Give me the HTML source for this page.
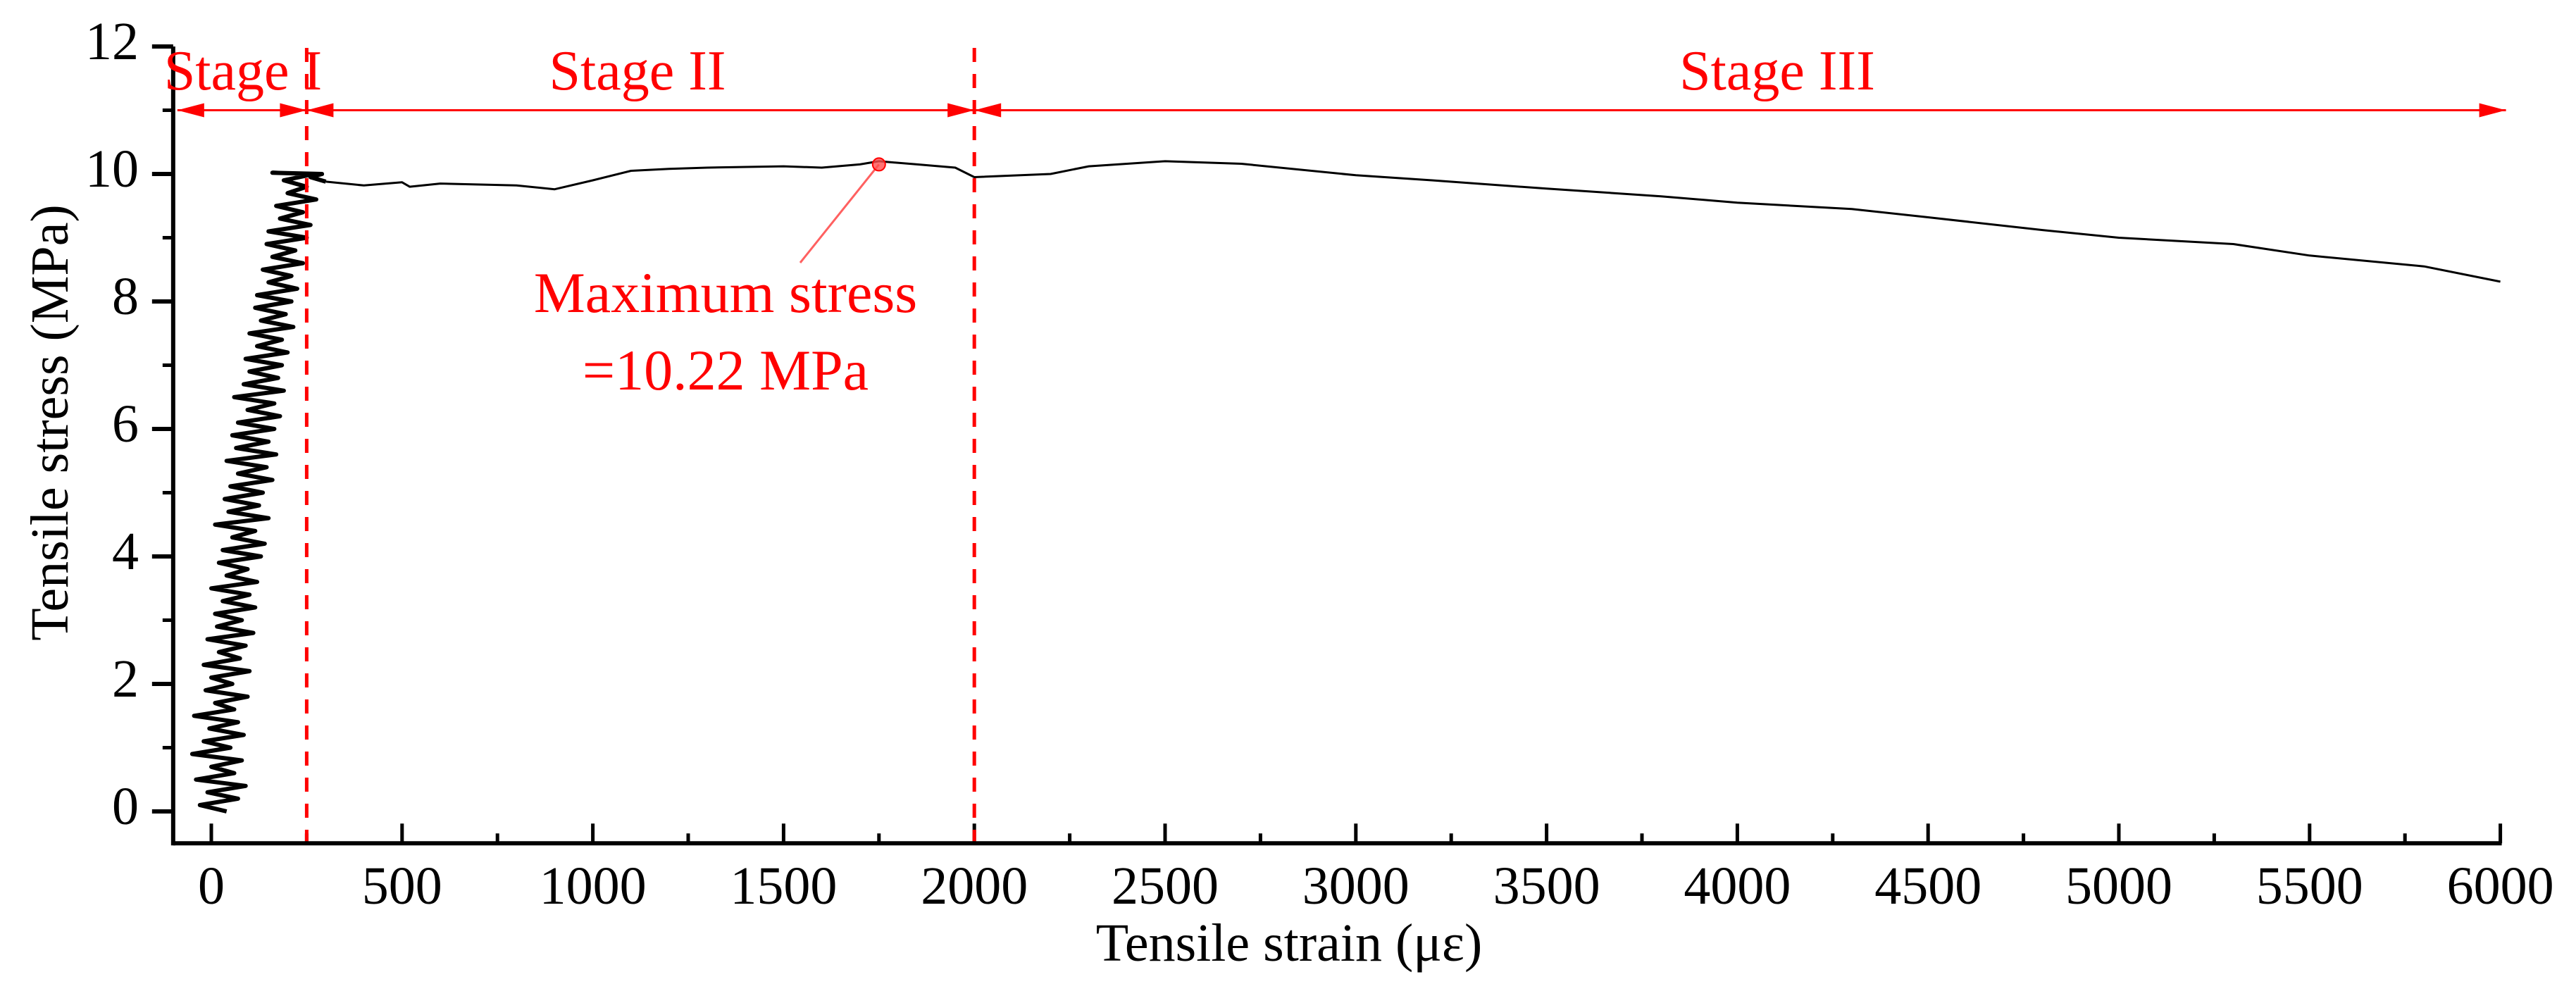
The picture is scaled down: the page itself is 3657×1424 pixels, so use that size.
<!DOCTYPE html>
<html><head><meta charset="utf-8"><style>html,body{margin:0;padding:0;background:#fff}svg{display:block}text{font-family:"Liberation Serif",serif}</style></head>
<body>
<svg id="chart" width="3657" height="1424" viewBox="0 0 3657 1424" xmlns="http://www.w3.org/2000/svg">
<g id="axes"></g>
<g id="series"></g>
<g id="annot"></g>
</svg>
<script>
const xTicks = [0,500,1000,1500,2000,2500,3000,3500,4000,4500,5000,5500,6000];
const yTicks = [0,2,4,6,8,10,12];
const stageBounds = [-100,250,2000,6000];
const stageLabels = ["Stage I","Stage II","Stage III"];
const maxPoint = [1750,10.15];
const stage1Strain = [40,-30,70,-10,90,-40,60,0,80,-50,50,-20,85,-5,70,-45,60,10,95,-15,55,0,100,-20,75,20,90,-10,110,15,80,10,115,30,100,0,120,40,95,20,130,30,140,55,115,10,150,45,125,35,135,50,160,70,145,40,170,65,150,55,165,70,180,95,165,60,190,85,175,100,185,90,200,120,185,100,215,130,195,115,210,120,225,150,210,135,240,160,220,145,250,150,260,180,240,170,275,200,250,190,270,160,290,260,300];
const stage1Stress = [0,0.1,0.2,0.3,0.4,0.5,0.6,0.7,0.8,0.9,1.0,1.1,1.2,1.3,1.4,1.5,1.6,1.7,1.8,1.9,2.0,2.1,2.2,2.3,2.4,2.5,2.6,2.7,2.8,2.9,3.0,3.1,3.2,3.3,3.4,3.5,3.6,3.7,3.8,3.9,4.0,4.1,4.2,4.3,4.4,4.5,4.6,4.7,4.8,4.9,5.0,5.1,5.2,5.3,5.4,5.5,5.6,5.7,5.8,5.9,6.0,6.1,6.2,6.3,6.4,6.5,6.6,6.7,6.8,6.9,7.0,7.1,7.2,7.3,7.4,7.5,7.6,7.7,7.8,7.9,8.0,8.1,8.2,8.3,8.4,8.5,8.6,8.7,8.8,8.9,9.0,9.1,9.2,9.3,9.4,9.5,9.6,9.7,9.8,9.9,10.0,10.02,10.0,9.95,9.88];
const stage2Strain = [300,400,500,520,600,800,900,1000,1100,1200,1300,1500,1600,1700,1750,1850,1950,2000,2200,2300,2500,2700,3000,3200,3500,3800,4000,4300,4500,4800,5000,5300,5500,5800,6000];
const stage2Stress = [9.88,9.82,9.87,9.8,9.85,9.82,9.76,9.9,10.05,10.08,10.1,10.12,10.1,10.15,10.2,10.15,10.1,9.95,10.0,10.12,10.2,10.16,9.98,9.9,9.77,9.65,9.55,9.45,9.32,9.12,9.0,8.9,8.72,8.55,8.31];
const NS="http://www.w3.org/2000/svg";
const X=v=>300+v*0.5416, Y=v=>1152-v*90.5;
function mk(tag,attrs,parent,txt){const e=document.createElementNS(NS,tag);for(const k in attrs)e.setAttribute(k,attrs[k]);if(txt!==undefined)e.textContent=txt;parent.appendChild(e);return e;}
const axes=document.getElementById('axes'),series=document.getElementById('series'),an=document.getElementById('annot');
const xa=X(-100), ya=Y(-0.5);
let e=mk('line',{x1:xa,y1:ya,x2:X(6000)+2,y2:ya,stroke:'#000','stroke-width':6},axes);


e=mk('line',{x1:xa,y1:ya+3,x2:xa,y2:Y(12),stroke:'#000','stroke-width':6},axes);


for(let i=0;i<xTicks.length;i++){const v=xTicks[i];
 e=mk('line',{x1:X(v),y1:ya,x2:X(v),y2:ya-28,stroke:'#000','stroke-width':5},axes);
 
 
 if(i<xTicks.length-1){e=mk('line',{x1:X(v+250),y1:ya,x2:X(v+250),y2:ya-14,stroke:'#000','stroke-width':5},axes);
 
 }
 e=mk('text',{x:X(v),y:1283,'font-size':76,'text-anchor':'middle'},axes,String(v));
 
 
}
for(let i=0;i<yTicks.length;i++){const v=yTicks[i];
 e=mk('line',{x1:xa,y1:Y(v),x2:xa-30,y2:Y(v),stroke:'#000','stroke-width':6},axes);
 
 
 if(i<yTicks.length-1){e=mk('line',{x1:xa,y1:Y(v+1),x2:xa-15,y2:Y(v+1),stroke:'#000','stroke-width':5},axes);
 
 }
 e=mk('text',{x:197,y:Y(v)+18,'font-size':76,'text-anchor':'end'},axes,String(v));
 
 
}
e=mk('text',{x:1830,y:1364,'font-size':76,'text-anchor':'middle'},axes,'Tensile strain (με)');


e=mk('text',{x:0,y:0,'font-size':76,'text-anchor':'middle',transform:'translate(96,600) rotate(-90)'},axes,'Tensile stress (MPa)');


let d='';
const n1=Math.min(stage1Strain.length,stage1Stress.length);
for(let i=0;i<n1;i++)d+=(i?'L':'M')+X(stage1Strain[i]).toFixed(1)+','+Y(stage1Stress[i]).toFixed(1);
e=mk('path',{d:d,fill:'none',stroke:'#000','stroke-width':6,'stroke-linejoin':'round'},series);


let d2='';
const n2=Math.min(stage2Strain.length,stage2Stress.length);
for(let i=0;i<n2;i++)d2+=(i?'L':'M')+X(stage2Strain[i]).toFixed(1)+','+Y(stage2Stress[i]).toFixed(1);
e=mk('path',{d:d2,fill:'none',stroke:'#000','stroke-width':3,'stroke-linejoin':'round'},series);


const red='#ff0000', ay=Y(11);
for(let i=1;i<3;i++){e=mk('line',{x1:X(stageBounds[i]),y1:68,x2:X(stageBounds[i]),y2:ya-3,stroke:red,'stroke-width':5,'stroke-dasharray':'20,17'},an);
 
 }
for(let i=0;i<3;i++){const a=(i==0?xa+6:X(stageBounds[i])),b=X(stageBounds[i+1])+(i==2?8:0);
 e=mk('line',{x1:a,y1:ay,x2:b,y2:ay,stroke:red,'stroke-width':3},an);
 
 
 e=mk('polygon',{points:`${a},${ay} ${a+38},${ay-10} ${a+38},${ay+10}`,fill:red},an);
 
 
 e=mk('polygon',{points:`${b},${ay} ${b-38},${ay-10} ${b-38},${ay+10}`,fill:red},an);
 
 
 const cx=i==0?345:(i==1?905:2523);
 e=mk('text',{x:cx,y:127,'font-size':80,'text-anchor':'middle',fill:red},an,stageLabels[i]);
 
 
}
const px=X(maxPoint[0]),py=Y(maxPoint[1]);
e=mk('line',{x1:px,y1:py,x2:1136,y2:373,stroke:'#ff6060','stroke-width':3},an);


e=mk('circle',{cx:px,cy:py,r:9,fill:'#ff5050','fill-opacity':0.8,stroke:red,'stroke-width':2},an);


e=mk('text',{x:1030,y:443,'font-size':82,'text-anchor':'middle',fill:red},an,'Maximum stress');


e=mk('text',{x:1030,y:553,'font-size':82,'text-anchor':'middle',fill:red},an,'=10.22 MPa');


</script>
</body></html>
